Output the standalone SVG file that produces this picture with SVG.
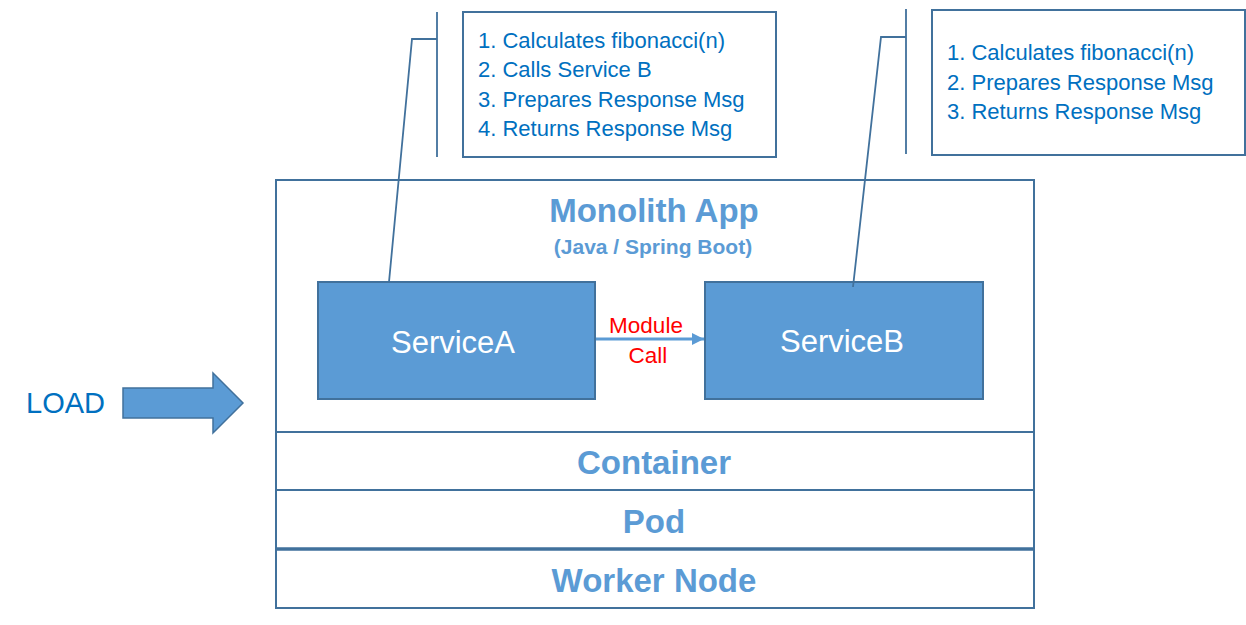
<svg xmlns="http://www.w3.org/2000/svg" width="1246" height="625" viewBox="0 0 1246 625">
<defs>
<style>
.box{fill:#ffffff;stroke:#41719C;stroke-width:2}
.svc{fill:#5B9BD5;stroke:#41719C;stroke-width:2}
.layer{font-family:"Liberation Sans",Arial,sans-serif;font-weight:bold;fill:#5B9BD5;text-anchor:middle}
.note{font-family:"Liberation Sans",Arial,sans-serif;font-size:22px;fill:#0070C0}
.svct{font-family:"Liberation Sans",Arial,sans-serif;font-size:31px;fill:#ffffff;text-anchor:middle}
.lbl{font-family:"Liberation Sans",Arial,sans-serif;font-size:22.5px;fill:#FF0000;text-anchor:middle}
.lead{fill:none;stroke:#41719C;stroke-width:1.8}
</style>
<marker id="ah" viewBox="0 0 10 10" refX="10" refY="5" markerWidth="4" markerHeight="4" orient="auto" markerUnits="strokeWidth">
<path d="M0,0 L10,5 L0,10 Z" fill="#5B9BD5"/>
</marker>
</defs>
<rect width="1246" height="625" fill="#ffffff"/>

<g id="load">
<text x="26" y="413" font-family="Liberation Sans,Arial,sans-serif" font-size="29" fill="#0070C0">LOAD</text>
<path d="M123,388 L213,388 L213,373 L243,403 L213,433 L213,418 L123,418 Z" fill="#5B9BD5" stroke="#41719C" stroke-width="1.5"/>
</g>

<g id="monolith">
<rect class="box" x="276" y="180" width="758" height="252"/>
<text class="layer" x="654" y="222" font-size="33">Monolith App</text>
<text class="layer" x="653" y="254" font-size="21">(Java / Spring Boot)</text>
</g>

<g id="serviceA">
<rect class="svc" x="318" y="282" width="277" height="117"/>
<text class="svct" x="453" y="353">ServiceA</text>
</g>

<g id="serviceB">
<rect class="svc" x="705" y="282" width="278" height="117"/>
<text class="svct" x="842" y="352">ServiceB</text>
</g>

<g id="container">
<rect class="box" x="276" y="432" width="758" height="58"/>
<text class="layer" x="654" y="474" font-size="33">Container</text>
</g>

<g id="pod">
<rect class="box" x="276" y="490" width="758" height="59"/>
<text class="layer" x="654" y="533" font-size="33">Pod</text>
</g>

<g id="worker">
<rect class="box" x="276" y="549" width="758" height="59"/>
<line x1="276" y1="549" x2="1034" y2="549" stroke="#41719C" stroke-width="3.5"/>
<text class="layer" x="654" y="592" font-size="33">Worker Node</text>
</g>

<g id="noteA">
<rect class="box" x="463" y="12" width="313" height="145" stroke-width="1.8"/>
<text class="note" x="478" y="48">1. Calculates fibonacci(n)</text>
<text class="note" x="478" y="77">2. Calls Service B</text>
<text class="note" x="478" y="106.5">3. Prepares Response Msg</text>
<text class="note" x="478" y="136">4. Returns Response Msg</text>
</g>

<g id="noteB">
<rect class="box" x="932" y="10" width="313" height="145" stroke-width="1.8"/>
<text class="note" x="947" y="60">1. Calculates fibonacci(n)</text>
<text class="note" x="947" y="90">2. Prepares Response Msg</text>
<text class="note" x="947" y="119">3. Returns Response Msg</text>
</g>

<g id="connectors">
<line x1="596" y1="339" x2="704" y2="339" stroke="#5B9BD5" stroke-width="3" marker-end="url(#ah)"/>
<text class="lbl" x="646" y="333">Module</text>
<text class="lbl" x="648" y="363">Call</text>
<path class="lead" d="M437,12 L437,157 M437,39 L412,39 L389,282"/>
<path class="lead" d="M906,9 L906,154 M906,37 L881,37 L853,287"/>
</g>
</svg>
